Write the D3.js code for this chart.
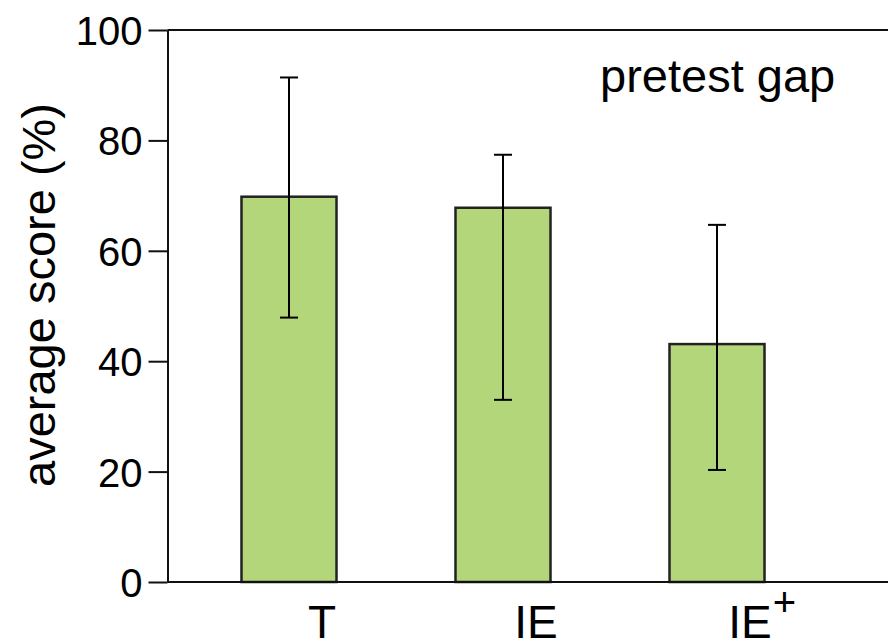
<!DOCTYPE html>
<html>
<head>
<meta charset="utf-8">
<script src="https://cdn.jsdelivr.net/npm/d3@7"></script>
<style>
  body { margin: 0; background: #fff; }
  text { font-family: "Liberation Sans", Arial, Helvetica, sans-serif; fill: #000; }
</style>
</head>
<body>
<div id="chart"></div>
<script>
// data
const categories = ["T", "IE", "IE+"];
const means = [69.8, 67.8, 43.1];
const errHigh = [91.4, 77.4, 64.7];
const errLow = [47.9, 33.0, 20.3];
const yTicks = [0, 20, 40, 60, 80, 100];

const width = 888, height = 644;
const axisX = 167.5;

const svg = d3.select("#chart")
  .append("svg")
  .attr("width", width)
  .attr("height", height);

const y = d3.scaleLinear()
  .domain([0, 100])
  .range([582, 30]);

const x = d3.scaleBand()
  .domain(categories)
  .range([182, 824])
  .paddingInner(0.556)
  .paddingOuter(0.278);

// frame lines (top and bottom run off the right edge)
svg.append("line")
  .attr("x1", axisX).attr("x2", width)
  .attr("y1", y(100)).attr("y2", y(100))
  .attr("stroke", "#111").attr("stroke-width", 2);

// bars
svg.selectAll("rect.bar")
  .data(categories)
  .join("rect")
  .attr("class", "bar")
  .attr("x", d => x(d))
  .attr("y", (d, i) => y(means[i]))
  .attr("width", x.bandwidth())
  .attr("height", (d, i) => y(0) - y(means[i]))
  .attr("fill", "#b3d67a")
  .attr("stroke", "#222")
  .attr("stroke-width", 2.5);

// error bars
const capW = 18;
const eb = svg.selectAll("g.err")
  .data(categories)
  .join("g")
  .attr("class", "err")
  .attr("stroke", "#000")
  .attr("stroke-width", 2);

eb.append("line")
  .attr("x1", d => x(d) + x.bandwidth() / 2)
  .attr("x2", d => x(d) + x.bandwidth() / 2)
  .attr("y1", (d, i) => y(errLow[i]))
  .attr("y2", (d, i) => y(errHigh[i]));
eb.append("line")
  .attr("x1", d => x(d) + x.bandwidth() / 2 - capW / 2)
  .attr("x2", d => x(d) + x.bandwidth() / 2 + capW / 2)
  .attr("y1", (d, i) => y(errHigh[i]))
  .attr("y2", (d, i) => y(errHigh[i]));
eb.append("line")
  .attr("x1", d => x(d) + x.bandwidth() / 2 - capW / 2)
  .attr("x2", d => x(d) + x.bandwidth() / 2 + capW / 2)
  .attr("y1", (d, i) => y(errLow[i]))
  .attr("y2", (d, i) => y(errLow[i]));

// bottom line
svg.append("line")
  .attr("x1", axisX).attr("x2", width)
  .attr("y1", y(0)).attr("y2", y(0))
  .attr("stroke", "#111").attr("stroke-width", 2);

// y axis
const yAxis = svg.append("g")
  .attr("transform", `translate(${axisX},0)`)
  .call(d3.axisLeft(y).tickValues(yTicks).tickSize(19).tickPadding(6).tickSizeOuter(0));
yAxis.attr("font-family", null).attr("font-size", null);
yAxis.select(".domain").attr("stroke", "#111").attr("stroke-width", 2);
yAxis.selectAll(".tick line").attr("stroke", "#111").attr("stroke-width", 2);
yAxis.selectAll(".tick text")
  .attr("font-size", 40)
  .attr("dy", "0.36em")
  .style("fill", "#000");

// y axis title
svg.append("text")
  .attr("transform", "translate(55,295) rotate(-90)")
  .attr("text-anchor", "middle")
  .attr("font-size", 47)
  .text("average score (%)");

// category labels, the "+" drawn as a superscript
const labelOffset = 33;
categories.forEach(c => {
  const base = c.replace("+", "");
  const cx = x(c) + x.bandwidth() / 2 + labelOffset;
  const t = svg.append("text")
    .attr("x", cx)
    .attr("y", 638)
    .attr("text-anchor", "middle")
    .attr("font-size", 46)
    .text(base);
  if (c.endsWith("+")) {
    const w = t.node().getComputedTextLength();
    svg.append("text")
      .attr("x", cx + w / 2 + 1)
      .attr("y", 616)
      .attr("font-size", 40)
      .text("+");
  }
});

// annotation
svg.append("text")
  .attr("x", 600)
  .attr("y", 92)
  .attr("font-size", 47)
  .text("pretest gap");
</script>
</body>
</html>
